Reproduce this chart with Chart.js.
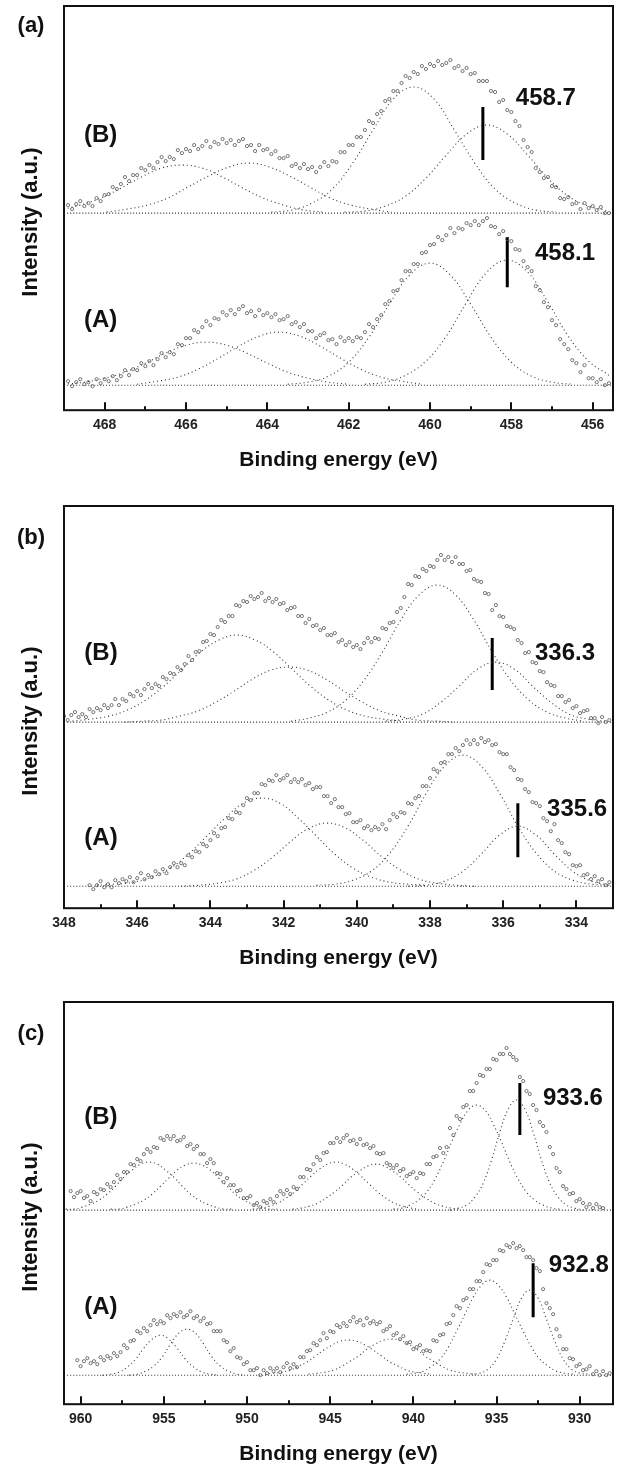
<!DOCTYPE html>
<html>
<head>
<meta charset="utf-8">
<script src="https://cdn.jsdelivr.net/npm/chart.js@4.4.1/dist/chart.umd.min.js"></script>
<style>
  body { margin: 0; background: #fff; }
  #wrap { position: relative; width: 620px; height: 1469px; }
  canvas { position: absolute; left: 0; }
</style>
</head>
<body>
<div id="wrap">
  <canvas id="chA" width="620" height="496" style="top:0"></canvas>
  <canvas id="chB" width="620" height="496" style="top:496px"></canvas>
  <canvas id="chC" width="620" height="477" style="top:992px"></canvas>
</div>
<script>
// ---- (a) 469 -> 455.5 eV, spectra every 0.1 eV from 468.9
const tiTicks = [468, 466, 464, 462, 460, 458, 456];
const tiMinor = [469, 467, 465, 463, 461, 459, 457];
const tiSpecB = [
  205,201,206,209,204,207,204,212,209,215, 216,223,221,226,233,229,235,235,242,240,
  245,242,248,253,249,253,251,260,257,261, 259,265,261,264,269,263,268,266,271,267,
  270,265,269,271,264,265,259,265,260,261, 256,259,252,252,254,244,246,242,246,241,
  243,238,243,248,244,249,248,258,258,265, 265,273,273,280,289,287,296,299,309,311,
  319,319,327,334,332,338,336,344,341,346, 344,349,345,347,350,342,344,339,342,336,
  337,329,329,329,319,318,308,310,300,298, 289,284,270,263,258,242,238,232,233,224,
  223,212,211,213,206,207,201,207,202,204, 200,203,197,197
];
const tiSpecA = [
  29,24,28,31,26,28,24,31,27,31, 29,34,30,34,40,35,41,40,47,44,
  49,45,51,57,53,58,56,66,65,72, 72,80,78,83,89,85,92,91,98,95,
  100,96,101,104,97,99,94,100,95,97, 93,96,90,91,94,86,88,83,86,79,
  79,72,75,77,70,71,66,73,69,72, 69,73,72,78,86,83,91,95,106,109,
  119,120,130,139,139,146,146,157,158,165, 166,173,170,175,182,177,182,181,187,185,
  189,185,189,192,184,183,176,179,171,169, 161,160,149,143,139,124,120,108,103,90,
  85,71,66,61,50,47,38,45,32,32, 28,31,25,27
];
// fitted components, every 0.5 eV from the start energy
const tiFitStartB = [469.1, 467.95, 463.9, 462.1];
const tiFitB = [
  [200,205,212,222,233,242,245,242,233,222,212,205,200,198],
  [198,201,205,212,223,234,243,247,243,234,223,212,205,201,198],
  [198,200,207,221,247,280,311,323,311,280,247,221,207,200,198],
  [198,199,204,214,232,255,276,285,276,255,232,214,204,199]
];
const tiFitStartA = [469.0, 467.2, 463.5, 461.6];
const tiFitA = [
  [26,28,32,38,47,57,65,68,65,57,47,38,32,28,26],
  [26,29,33,41,52,64,74,78,74,64,52,41,33,29,26],
  [26,28,34,48,73,106,135,147,135,106,73,48,34,28,26],
  [26,28,35,49,74,108,138,150,138,108,74,49,35]
];

// ---- (b) 348 -> 333 eV, spectra every 0.1 eV
const pdTicks = [348, 346, 344, 342, 340, 338, 336, 334];
const pdMinor = [347, 345, 343, 341, 339, 337, 335, 333];
const pdSpecB = [
  192,188,193,196,191,194,191,199,196,200, 198,203,200,203,209,203,209,207,214,212,
  217,213,219,224,220,224,222,231,229,235, 234,241,238,244,252,248,256,257,266,267,
  274,273,281,288,286,292,292,303,302,307, 306,312,309,311,315,307,310,306,309,304,
  305,298,300,301,292,292,285,289,282,283, 278,280,273,273,275,266,268,263,266,261,
  263,259,265,270,266,270,269,280,279,285, 286,296,300,311,324,323,332,331,339,337,
  342,341,348,353,348,351,346,351,344,344, 337,338,329,327,326,315,314,298,303,292,
  291,282,281,279,268,265,255,256,246,245, 237,236,226,223,222,212,212,206,208,200,
  202,195,197,198,190,190,185,191,186,188
];
const pdSpecA = [
  23,19,23,27,21,24,21,28,25,29, 27,31,26,30,35,29,33,31,37,34,
  39,35,41,45,41,45,43,53,51,57, 56,64,62,68,75,72,80,81,90,89,
  96,95,103,110,108,115,115,124,123,128, 127,133,128,130,133,126,129,126,129,123,
  125,119,121,121,112,112,105,109,101,101, 94,95,86,86,88,80,82,78,81,79,
  84,79,88,94,91,96,95,105,104,110, 112,122,122,130,139,137,145,146,154,154,
  160,157,163,168,164,168,164,170,166,168, 163,164,156,154,154,141,138,129,128,119,
  116,106,105,102,90,87,77,84,68,65, 56,54,43,42,43,33,34,29,32,27,
  29,23,26
];
const pdFitStartB = [347.77, 346.35, 341.8, 339.2];
const pdFitB = [
  [187,189,192,198,208,222,239,256,268,273,268,256,239,222,208,198,192,189,187],
  [186,187,188,192,197,206,217,229,238,241,238,229,217,206,197,192,188,187,186],
  [187,190,196,208,228,256,288,313,323,313,288,256,228,208,196,190,187],
  [187,189,194,206,222,239,246,239,222,206,194,189,187]
];
const pdFitStartA = [347.1, 344.8, 341.1, 338.6];
const pdFitA = [
  [23,24,26,31,40,54,72,90,105,110,105,90,72,54,40,31,26,24,23],
  [22,23,25,29,38,51,67,80,85,80,67,51,38,29,25,23,22],
  [23,24,28,37,55,82,115,142,153,142,115,82,55,37,28,24,23],
  [22,23,27,37,54,73,82,73,54,37,27,23]
];

// ---- (c) 961 -> 928 eV, spectra every 0.2 eV
const cuTicks = [960, 955, 950, 945, 940, 935, 930];
const cuMinor = [957.5, 952.5, 947.5, 942.5, 937.5, 932.5];
const cuSpecB = [
  213,207,211,213,206,208,203,212,210,215, 214,220,217,222,229,225,232,232,240,239,
  245,243,250,255,252,257,256,266,264,268, 265,268,263,264,267,258,260,255,258,250,
  250,241,245,241,231,230,222,226,219,219, 213,214,206,206,208,199,201,197,203,201,
  205,202,208,213,210,214,210,217,215,227, 227,235,234,240,247,244,251,252,261,261,
  266,262,266,269,263,264,260,265,259,260, 256,258,251,250,251,241,239,236,239,233,
  235,228,230,232,226,231,230,240,240,247, 248,256,251,257,276,269,288,285,297,299,
  313,313,321,329,328,335,335,345,344,350, 350,356,350,347,344,327,323,313,310,299,
  294,282,278,272,257,250,236,232,218,215, 210,211,203,205,201,197,200,196,200,197,
  196
];
const cuSpecA = [
  44,38,43,46,41,43,40,47,44,48, 46,51,48,52,59,56,63,64,73,71,
  76,73,79,84,80,83,81,89,86,90, 88,92,87,89,93,86,88,83,86,80,
  81,73,73,73,64,62,53,56,47,46, 40,42,34,34,36,29,34,31,36,33,
  36,32,37,41,36,40,37,47,47,53, 54,61,59,64,71,66,73,72,79,77,
  81,78,83,87,82,84,79,86,81,83, 80,82,73,75,78,69,71,65,68,61,
  62,55,57,59,53,54,53,64,63,69, 70,80,81,89,98,96,104,106,115,115,
  123,123,132,140,139,144,144,154,153,159, 157,161,156,158,154,147,147,144,136,133,
  115,101,96,90,75,68,55,55,46,45, 38,40,34,35,38,30,33,29,33,29,
  31
];
const cuFitStartB = [960.9, 958.2, 949.65, 947.25, 941.2, 937.8];
const cuFitB = [
  [195,195,197,200,204,210,218,227,234,240,242,240,234,227,218,210,204,200,197,195,195],
  [195,195,197,200,204,210,218,226,234,239,241,239,234,226,218,210,204,200,197,195,195],
  [195,196,198,201,206,212,220,228,235,240,242,240,235,228,220,212,206,201,198,196,195],
  [195,196,198,201,206,212,219,227,233,238,240,238,233,227,219,212,206,201,198,196,195],
  [195,196,199,204,212,225,242,262,280,294,299,294,280,262,242,225,212,204,199,196,195],
  [194,196,199,207,221,244,272,295,304,295,272,244,221,207,199,196,194]
];
const cuFitStartA = [958.7, 957.1, 948.9, 946.3, 940.4, 936.5];
const cuFitA = [
  [29,30,32,37,45,56,65,69,65,56,45,37,32,30,29],
  [29,30,33,38,47,60,71,75,71,60,47,38,33,30,29],
  [30,31,32,34,38,42,48,54,59,63,64,63,59,54,48,42,38,34,32,31,30],
  [30,31,32,34,38,43,48,55,60,64,65,64,60,55,48,43,38,34,32,31,30],
  [30,31,33,38,45,57,73,90,107,119,124,119,107,90,73,57,45,38,33,31,30],
  [30,31,35,45,63,85,106,114,106,85,63,45,35,31,30]
];

const FONT = '"Liberation Sans", Arial, sans-serif';

// values listed from high to low binding energy
const toPts = (start, step, vals) =>
  vals.map((v, i) => ({ x: +(start - i * step).toFixed(2), y: v }));

const specSet = (pts) => ({
  data: pts,
  showLine: false,
  pointRadius: 1.6,
  pointBorderWidth: 0.8,
  pointBorderColor: "#555",
  pointBackgroundColor: "rgba(255,255,255,0)",
});
const fitSet = (pts) => ({
  data: pts,
  showLine: true,
  pointRadius: 0,
  borderColor: "#333",
  borderWidth: 1.1,
  borderDash: [1, 3],
  tension: 0.4,
});
const barSet = (e, y1, y2) => ({
  data: [{ x: e, y: y1 }, { x: e, y: y2 }],
  showLine: true,
  pointRadius: 0,
  borderColor: "#000",
  borderWidth: 3,
});

// frame, inward ticks and all text labels
const framePlugin = (cfg) => ({
  id: "frame",
  afterDraw: (chart) => {
    const { ctx, chartArea: a } = chart;
    const xs = chart.scales.x;
    const ys = chart.scales.y;
    ctx.save();
    ctx.strokeStyle = "#111";
    ctx.lineWidth = 2;
    cfg.major.forEach((v) => {
      const px = Math.round(xs.getPixelForValue(v));
      ctx.beginPath(); ctx.moveTo(px, a.bottom); ctx.lineTo(px, a.bottom - 8); ctx.stroke();
    });
    cfg.minor.forEach((v) => {
      const px = Math.round(xs.getPixelForValue(v));
      ctx.beginPath(); ctx.moveTo(px, a.bottom); ctx.lineTo(px, a.bottom - 4); ctx.stroke();
    });
    ctx.strokeRect(a.left, a.top, a.width, a.height);

    ctx.fillStyle = "#111";
    ctx.textAlign = "center";
    ctx.textBaseline = "middle";
    ctx.font = "bold 21px " + FONT;
    ctx.fillText("Binding energy (eV)", (a.left + a.right) / 2, a.bottom + 50);
    ctx.font = "bold 22px " + FONT;
    ctx.fillText(cfg.panel, 31, a.top + cfg.panelDy);

    ctx.font = "bold 24px " + FONT;
    cfg.notes.forEach(([t, e, v]) => {
      ctx.fillText(t, xs.getPixelForValue(e), ys.getPixelForValue(v));
    });

    ctx.translate(31, (a.top + a.bottom) / 2 + 14);
    ctx.rotate(-Math.PI / 2);
    ctx.font = "bold 22px " + FONT;
    ctx.fillText("Intensity (a.u.)", 0, 0);
    ctx.restore();
  },
});

function makePanel(id, cfg) {
  const datasets = [];
  datasets.push(specSet(toPts(cfg.specStart[0], cfg.specStep, cfg.specB)));
  datasets.push(specSet(toPts(cfg.specStart[1], cfg.specStep, cfg.specA)));
  cfg.fitB.forEach((f, i) => datasets.push(fitSet(toPts(cfg.fitStartB[i], 0.5, f))));
  cfg.fitA.forEach((f, i) => datasets.push(fitSet(toPts(cfg.fitStartA[i], 0.5, f))));
  cfg.base.forEach((b) => {
    const s = fitSet([{ x: cfg.xmax, y: b }, { x: cfg.xmin, y: b }]);
    s.borderDash = [1, 2];
    datasets.push(s);
  });
  cfg.bars.forEach(([e, y1, y2]) => datasets.push(barSet(e, y1, y2)));

  new Chart(document.getElementById(id), {
    type: "scatter",
    data: { datasets: datasets },
    options: {
      responsive: false,
      animation: false,
      devicePixelRatio: 1,
      layout: { padding: { left: 64, right: 7, top: cfg.padTop, bottom: cfg.padBottom } },
      plugins: { legend: { display: false }, tooltip: { enabled: false } },
      scales: {
        x: {
          type: "linear",
          reverse: true,
          min: cfg.xmin,
          max: cfg.xmax,
          grid: { display: false, drawTicks: false },
          border: { display: false },
          afterBuildTicks: (scale) => {
            scale.ticks = cfg.major.map((v) => ({ value: v }));
          },
          ticks: {
            padding: 7,
            color: "#222",
            font: { family: FONT, size: 14, weight: "bold" },
            callback: (v) => String(v),
          },
        },
        y: { display: false, min: 0, max: cfg.ymax },
      },
    },
    plugins: [framePlugin(cfg)],
  });
}

makePanel("chA", {
  xmin: 455.5, xmax: 469, ymax: 404, padTop: 6, padBottom: 55,
  major: tiTicks, minor: tiMinor,
  specStart: [468.9, 468.9], specStep: 0.1, specB: tiSpecB, specA: tiSpecA,
  fitB: tiFitB, fitStartB: tiFitStartB, fitA: tiFitA, fitStartA: tiFitStartA,
  base: [197, 25],
  bars: [[458.7, 250, 303], [458.1, 123, 173]],
  panel: "(a)", panelDy: 20,
  notes: [["(B)", 468.1, 275], ["458.7", 457.15, 312], ["(A)", 468.1, 90], ["458.1", 456.68, 157]],
});

makePanel("chB", {
  xmin: 333, xmax: 348, ymax: 402, padTop: 10, padBottom: 53,
  major: pdTicks, minor: pdMinor,
  specStart: [348.0, 347.3], specStep: 0.1, specB: pdSpecB, specA: pdSpecA,
  fitB: pdFitB, fitStartB: pdFitStartB, fitA: pdFitA, fitStartA: pdFitStartA,
  base: [186, 22],
  bars: [[336.3, 218, 270], [335.6, 51, 105]],
  panel: "(b)", panelDy: 32,
  notes: [["(B)", 346.99, 255], ["336.3", 334.31, 255], ["(A)", 346.99, 70], ["335.6", 333.98, 99]],
});

makePanel("chC", {
  xmin: 928, xmax: 961, ymax: 402, padTop: 10, padBottom: 34,
  major: cuTicks, minor: cuMinor,
  specStart: [960.6, 960.2], specStep: 0.2, specB: cuSpecB, specA: cuSpecA,
  fitB: cuFitB, fitStartB: cuFitStartB, fitA: cuFitA, fitStartA: cuFitStartA,
  base: [194, 29],
  bars: [[933.6, 269, 321], [932.8, 87, 141]],
  panel: "(c)", panelDy: 32,
  notes: [["(B)", 958.78, 287], ["933.6", 930.41, 306], ["(A)", 958.78, 97], ["932.8", 930.05, 139]],
});
</script>
</body>
</html>
